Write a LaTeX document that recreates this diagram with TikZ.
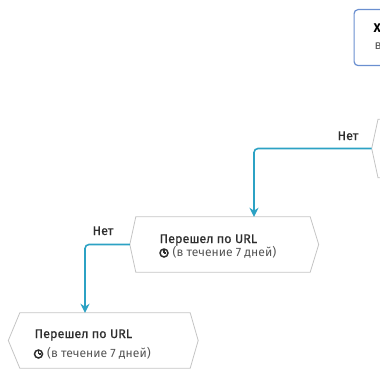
\documentclass[tikz,border=0pt]{standalone}
\usepackage{fontspec}
\setmainfont{Fira Sans}
\newfontfamily\medfont[FakeBold=0.6]{Fira Sans}
\usetikzlibrary{calc,arrows.meta}
\definecolor{flow}{HTML}{2CA2C4}
\definecolor{hexgray}{HTML}{C4C4C4}
\definecolor{boxblue}{HTML}{6A8FD0}
\definecolor{ttop}{HTML}{2E2E2E}
\definecolor{tsub}{HTML}{555555}
\tikzset{
  hexbox/.style={draw=none, rectangle, inner sep=0pt},
  hexline/.style={draw=hexgray, line width=0.8pt, line join=miter},
  flowline/.style={draw=flow, line width=1.6pt, rounded corners=4pt, -{Stealth[length=9pt,width=9pt]}},
  ttl/.style={anchor=base west, inner sep=0pt, text=ttop, font=\medfont\fontsize{12.6}{14}\selectfont},
  sub/.style={anchor=base west, inner sep=0pt, text=tsub, font=\fontsize{12.1}{14}\selectfont},
  lbl/.style={anchor=base, inner sep=0pt, text=ttop, font=\medfont\fontsize{12.6}{14}\selectfont},
  clock/.style={circle, draw=ttop, line width=1.5pt, minimum size=8pt, inner sep=0pt}
}
\begin{document}
\begin{tikzpicture}[x=1pt,y=-1pt]
\useasboundingbox (0,0) rectangle (380,369);
\clip (0,0) rectangle (380,369);
% top-right box (cut off)
\node[draw=boxblue, line width=1.2pt, rounded corners=4pt, minimum width=120pt, minimum height=56pt, anchor=north west, inner sep=0pt] (top) at (353.5,9) {};
\node[anchor=base west, inner sep=0pt, text=black, font=\bfseries\fontsize{12.6}{14}\selectfont] (topt1) at (373.5,33) {Х};
\node[anchor=base west, inner sep=0pt, text=tsub, font=\fontsize{12.6}{14}\selectfont] (topt2) at (374.5,50) {в};
% partly visible hexagon on the right
\node[hexbox, minimum width=120pt, minimum height=58pt, anchor=west] (h1) at (378,148.5) {};
\draw[hexline] (h1.north east) -- (h1.north west) -- ([xshift=-6.3pt]h1.west) -- (h1.south west) -- (h1.south east);
% hexagon 2
\node[hexbox, minimum width=174pt, minimum height=55pt] (h2) at (223,244.5) {};
\draw[hexline] (h2.north west) -- (h2.north east) -- ([xshift=8.5pt]h2.east) -- (h2.south east) -- (h2.south west) -- ([xshift=-6pt]h2.west) -- cycle;
\node[ttl] (h2a) at (159.5,243) {Перешел по URL};
\node[clock] (h2c) at (164,253) {};
\draw[ttop, line width=1.1pt] (h2c.center) -- ++(0,-2.6) (h2c.center) -- ++(2,0);
\node[sub] (h2b) at (172.5,256.5) {(в течение 7 дней)};
% hexagon 3
\node[hexbox, minimum width=170pt, minimum height=55pt] (h3) at (105,340.5) {};
\draw[hexline] (h3.north west) -- (h3.north east) -- ([xshift=8pt]h3.east) -- (h3.south east) -- (h3.south west) -- ([xshift=-11.5pt]h3.west) -- cycle;
\node[ttl] (h3a) at (34.5,338) {Перешел по URL};
\node[clock] (h3c) at (38.5,354) {};
\draw[ttop, line width=1.1pt] (h3c.center) -- ++(0,-2.6) (h3c.center) -- ++(2,0);
\node[sub] (h3b) at (47,357.5) {(в течение 7 дней)};
% connectors
\draw[flowline] ([xshift=-6.3pt]h1.west) -| ($(h2.north)+(31,0)$);
\draw[flowline] ([xshift=-6pt]h2.west) -| ($(h3.north)+(-20,0)$);
% labels
\node[lbl] (n1) at (348,140) {Нет};
\node[lbl] (n2) at (103,235) {Нет};
\end{tikzpicture}
\end{document}
